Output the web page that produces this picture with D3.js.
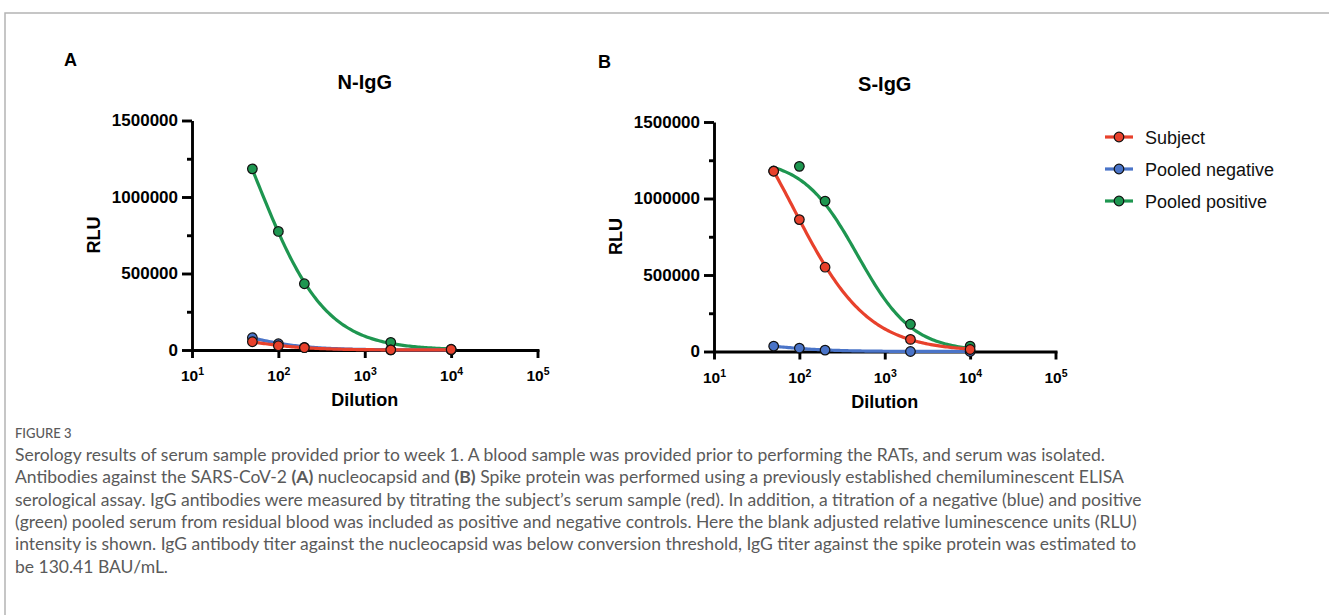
<!DOCTYPE html>
<html lang="en">
  <head>
    <meta charset="UTF-8" />
    <title>Figure 3 - serology of serum sample</title>
    <script src="https://cdnjs.cloudflare.com/ajax/libs/d3/7.8.5/d3.min.js"></script>
    <style>
      body {
        margin: 0;
        background: #fff;
      }
      svg {
        display: block;
      }
      .axis path,
      .axis line {
        stroke: #000;
        stroke-width: 2.9px;
      }
      .axis text {
        font-family: "Liberation Sans", Arial, sans-serif;
        font-weight: bold;
        fill: #000;
      }
      .label {
        font-family: "Liberation Sans", Arial, sans-serif;
        font-weight: bold;
        fill: #000;
        text-anchor: middle;
      }
      .legend text {
        font-family: "Liberation Sans", Arial, sans-serif;
        font-size: 18px;
        fill: #111;
      }
      .caption {
        font-family: Lato, "Open Sans", sans-serif;
        font-size: 17.5px;
        fill: #5a5a5a;
      }
    </style>
  </head>

  <body>
    <svg id="fig" width="1329" height="615"></svg>
    <script>
      // dilution series (x)
      const dilutions = [50, 100, 200, 2000, 10000];

      const seriesNames = ["Subject", "Pooled negative", "Pooled positive"];
      const seriesColors = ["#e8412c", "#4a74c8", "#1e9650"];

      // A: N-IgG, RLU
      const nSubject = [54000, 28000, 15000, 1000, 3000];
      const nNegative = [80000, 41000, 17000, 1000, 1000];
      const nPositive = [1184000, 775000, 433000, 50000, 5000];

      // B: S-IgG
      const sSubject = [1178000, 862000, 551000, 79000, 13000];
      const sNegative = [35000, 22000, 9000, 0, 0];
      const sPositive = [1180000, 1210000, 983000, 178000, 35000];

      // fitted 4PL curves: [top, bottom, EC50, hill]
      const nFitSubject = [136000, 0, 35, 1.2];
      const nFitNegative = [200000, 0, 35, 1.2];
      const nFitPositive = [2200000, 0, 57, 1.1];
      const sFitSubject = [1860000, 0, 86.4, 1.0];
      const sFitNegative = [80000, 0, 40, 1.2];
      const sFitPositive = [1260000, 0, 480, 1.35];

      // axis ticks
      const yMajor = [0, 500000, 1000000, 1500000];
      const yMinor = [250000, 750000, 1250000];
      const xMajor = [10, 100, 1000, 10000, 100000];

      const captionHead = "FIGURE 3";
      const captionLines = [
        "Serology results of serum sample provided prior to week 1. A blood sample was provided prior to performing the RATs, and serum was isolated.",
        "Antibodies against the SARS-CoV-2 <b>(A)</b> nucleocapsid and <b>(B)</b> Spike protein was performed using a previously established chemiluminescent ELISA",
        "serological assay. IgG antibodies were measured by titrating the subject\u2019s serum sample (red). In addition, a titration of a negative (blue) and positive",
        "(green) pooled serum from residual blood was included as positive and negative controls. Here the blank adjusted relative luminescence units (RLU)",
        "intensity is shown. IgG antibody titer against the nucleocapsid was below conversion threshold, IgG titer against the spike protein was estimated to",
        "be 130.41 BAU/mL."
      ];

      const svg = d3.select("#fig");

      // frame (only top and left edges fall inside the picture)
      svg
        .append("path")
        .attr("d", "M5,615V13H1329")
        .attr("fill", "none")
        .attr("stroke", "#b4b4b4")
        .attr("stroke-width", 1.5);

      function fourPL(p, x) {
        return p[1] + (p[0] - p[1]) / (1 + Math.pow(x / p[2], p[3]));
      }

      function drawPanel(cfg) {
        const g = svg.append("g").attr("transform", `translate(0,${cfg.dy})`);

        const x = d3.scaleLog().domain([10, 100000]).range([cfg.x0, cfg.x1]);
        const y = d3.scaleLinear().domain([0, 1500000]).range([350, 120.5]);

        // y axis, major + minor ticks
        g.append("g")
          .attr("class", "axis")
          .attr("transform", `translate(${cfg.x0},0)`)
          .call(
            d3
              .axisLeft(y)
              .tickValues(yMajor)
              .tickSize(10)
              .tickSizeOuter(0)
              .tickPadding(4)
              .tickFormat(d3.format("d"))
          )
          .selectAll("text")
          .attr("font-size", 17);

        const minor = g
          .append("g")
          .attr("class", "axis")
          .attr("transform", `translate(${cfg.x0},0)`)
          .call(d3.axisLeft(y).tickValues(yMinor).tickSize(5).tickFormat(""));
        minor.select(".domain").remove();

        // x axis (log) with 10^n labels
        const xa = g
          .append("g")
          .attr("class", "axis")
          .attr("transform", "translate(0,350)")
          .call(
            d3
              .axisBottom(x)
              .tickValues(xMajor)
              .tickSize(8)
              .tickSizeOuter(0)
              .tickFormat(() => "10")
          );
        xa.selectAll(".tick text")
          .attr("y", 31)
          .attr("dy", 0)
          .attr("font-size", 15.5)
          .append("tspan")
          .attr("dy", -6)
          .attr("font-size", 10.5)
          .text(d => Math.round(Math.log10(d)));
        xa.selectAll(".domain").attr("stroke-linecap", "square");

        // titles
        const cx = (cfg.x0 + cfg.x1) / 2;
        g.append("text")
          .attr("class", "label")
          .attr("x", cx)
          .attr("y", 89)
          .attr("font-size", 20)
          .text(cfg.title);
        g.append("text")
          .attr("class", "label")
          .attr("x", cx)
          .attr("y", 406)
          .attr("font-size", 18)
          .text("Dilution");
        g.append("text")
          .attr("class", "label")
          .attr("transform", `translate(${cfg.x0 - 98},235) rotate(-90)`)
          .attr("dy", "0.36em")
          .attr("font-size", 18)
          .text("RLU");
        g.append("text")
          .attr("class", "label")
          .attr("x", cfg.letterX)
          .attr("y", 66)
          .attr("font-size", 18)
          .attr("fill", "#333")
          .style("text-anchor", "start")
          .text(cfg.letter);

        // draw back to front: positive, negative, subject
        const xs = d3.range(0, 121).map(i => dilutions[0] * Math.pow(dilutions[4] / dilutions[0], i / 120));
        const line = d3
          .line()
          .x(d => x(d[0]))
          .y(d => y(d[1]));

        [2, 1, 0].forEach(i => {
          const fit = cfg.fits[i];
          g.append("path")
            .datum(xs.map(v => [v, fourPL(fit, v)]))
            .attr("d", line)
            .attr("fill", "none")
            .attr("stroke", seriesColors[i])
            .attr("stroke-width", 3.2);

          g.selectAll(null)
            .data(cfg.values[i])
            .join("circle")
            .attr("cx", (d, j) => x(dilutions[j]))
            .attr("cy", d => y(d))
            .attr("r", 4.8)
            .attr("fill", seriesColors[i])
            .attr("stroke", "#111")
            .attr("stroke-width", 1.2);
        });
      }

      drawPanel({
        letter: "A",
        letterX: 64,
        title: "N-IgG",
        x0: 192,
        x1: 537.5,
        dy: 0,
        values: [nSubject, nNegative, nPositive],
        fits: [nFitSubject, nFitNegative, nFitPositive]
      });

      drawPanel({
        letter: "B",
        letterX: 598,
        title: "S-IgG",
        x0: 714,
        x1: 1055.5,
        dy: 1.5,
        values: [sSubject, sNegative, sPositive],
        fits: [sFitSubject, sFitNegative, sFitPositive]
      });

      // legend
      const legend = svg.append("g").attr("class", "legend");
      seriesNames.forEach((name, i) => {
        const ly = 137 + i * 32;
        legend
          .append("line")
          .attr("x1", 1105)
          .attr("x2", 1133)
          .attr("y1", ly)
          .attr("y2", ly)
          .attr("stroke", seriesColors[i])
          .attr("stroke-width", 3.2);
        legend
          .append("circle")
          .attr("cx", 1119)
          .attr("cy", ly)
          .attr("r", 4.8)
          .attr("fill", seriesColors[i])
          .attr("stroke", "#111")
          .attr("stroke-width", 1.2);
        legend
          .append("text")
          .attr("x", 1145)
          .attr("y", ly + 6.5)
          .text(name);
      });

      // caption
      svg
        .append("text")
        .attr("class", "caption")
        .attr("x", 15)
        .attr("y", 438)
        .attr("font-weight", 500)
        .attr("fill", "#6a6a6a")
        .style("font-size", "13px")
        .text(captionHead);

      captionLines.forEach((txt, i) => {
        const t = svg
          .append("text")
          .attr("class", "caption")
          .attr("x", 15)
          .attr("y", 461 + i * 22.3);
        // split out the bold (A)/(B) markers
        txt.split(/(<b>.*?<\/b>)/).forEach(part => {
          if (!part) return;
          const bold = part.startsWith("<b>");
          t.append("tspan")
            .attr("font-weight", bold ? "bold" : null)
            .text(bold ? part.replace(/<\/?b>/g, "") : part);
        });
      });
    </script>
  </body>
</html>
